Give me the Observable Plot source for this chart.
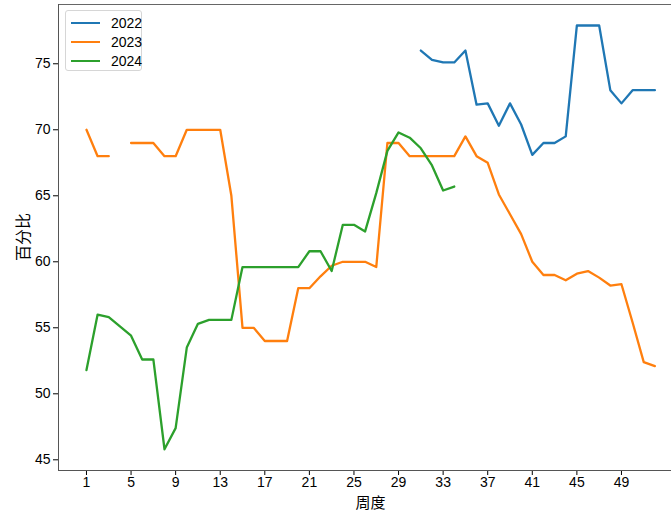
<!DOCTYPE html>
<html>
<head>
<meta charset="utf-8">
<script src="https://cdn.jsdelivr.net/npm/d3@7"></script>
<script src="https://cdn.jsdelivr.net/npm/@observablehq/plot@0.6"></script>
<style>
  body { margin: 0; background: #fff; }
  #wrap { position: relative; width: 671px; height: 514px; font-family: "Liberation Sans", "Noto Sans CJK SC", sans-serif; }
  .legend { position: absolute; left: 65px; top: 10px; width: 77px; height: 61px; border: 1px solid #d6d6d6; border-radius: 3px; background: rgba(255,255,255,0.85); box-sizing: border-box; }
  .legend .row { position: absolute; left: 0; height: 18px; display: flex; align-items: center; font-size: 14px; color: #000; }
  .legend .sw { width: 29px; height: 2px; margin-left: 5px; margin-right: 11px; }
</style>
</head>
<body>
<div id="wrap"></div>
<script>
// ---- data ----
const weeks = [1,2,3,4,5,6,7,8,9,10,11,12,13,14,15,16,17,18,19,20,21,22,23,24,25,26,
               27,28,29,30,31,32,33,34,35,36,37,38,39,40,41,42,43,44,45,46,47,48,49,50,51,52];
const years = ["2022", "2023", "2024"];
const colors = ["#1f77b4", "#ff7f0e", "#2ca02c"];
const v2022 = [null,null,null,null,null,null,null,null,null,null,null,null,null,null,null,null,
               null,null,null,null,null,null,null,null,null,null,null,null,null,null,
               76.0,75.3,75.1,75.1,76.0,71.9,72.0,70.3,72.0,70.4,68.1,69.0,69.0,69.5,
               77.9,77.9,77.9,73.0,72.0,73.0,73.0,73.0];
const v2023 = [70.0,68.0,68.0,null,69.0,69.0,69.0,68.0,68.0,70.0,70.0,70.0,70.0,65.0,55.0,55.0,
               54.0,54.0,54.0,58.0,58.0,58.9,59.7,60.0,60.0,60.0,59.6,69.0,69.0,68.0,
               68.0,68.0,68.0,68.0,69.5,68.0,67.5,65.1,63.6,62.1,60.0,59.0,59.0,58.6,
               59.1,59.3,58.8,58.2,58.3,55.4,52.4,52.1];
const v2024 = [51.8,56.0,55.8,55.1,54.4,52.6,52.6,45.8,47.4,53.5,55.3,55.6,55.6,55.6,59.6,59.6,
               59.6,59.6,59.6,59.6,60.8,60.8,59.3,62.8,62.8,62.3,65.2,68.4,69.8,69.4,
               68.6,67.3,65.4,65.7,null,null,null,null,null,null,null,null,null,null,
               null,null,null,null,null,null,null,null];
const xTicks = [1,5,9,13,17,21,25,29,33,37,41,45,49];
const yTicks = [45,50,55,60,65,70,75];
const xLabel = "周度";
const yLabel = "百分比";

const series = [v2022, v2023, v2024];
const rows = [];
series.forEach((vals, i) => weeks.forEach((w, j) => rows.push({year: years[i], week: w, value: vals[j]})));

const xDomain = [-1.51, 53.49];
const yDomain = [44.19, 79.49];

const chart = Plot.plot({
  width: 671, height: 514,
  marginLeft: 58, marginRight: 0, marginTop: 4, marginBottom: 44,
  style: { fontFamily: "'Liberation Sans', 'Noto Sans CJK SC', sans-serif", fontSize: "14px", color: "#000", background: "#fff", overflow: "visible" },
  x: { domain: xDomain, ticks: xTicks, tickSize: 5, tickPadding: 2, label: null, tickFormat: d => String(d) },
  y: { domain: yDomain, ticks: yTicks, tickSize: 5, tickPadding: 3, label: null, tickFormat: d => String(d) },
  marks: [
    ...years.map((yr, i) => Plot.line(rows.filter(r => r.year === yr), {
      x: "week", y: "value", stroke: colors[i], strokeWidth: 2.3
    })),
    Plot.ruleY([yDomain[0]], { stroke: "#555", strokeWidth: 1 }),
    Plot.ruleY([yDomain[1]], { stroke: "#666", strokeWidth: 1 }),
    Plot.ruleX([xDomain[0]], { stroke: "#555", strokeWidth: 1 })
  ]
});

const wrap = document.getElementById("wrap");
wrap.appendChild(chart);

const svg = d3.select(chart.tagName.toLowerCase() === "svg" ? chart : chart.querySelector("svg"));
svg.append("text")
  .attr("x", (58 + 683) / 2).attr("y", 504)
  .attr("text-anchor", "middle").attr("dominant-baseline", "middle")
  .attr("font-family", "'Noto Sans CJK SC', sans-serif").attr("font-size", 15)
  .attr("fill", "#000").text(xLabel);
svg.append("text")
  .attr("transform", "translate(25,237) rotate(-90)")
  .attr("text-anchor", "middle").attr("dominant-baseline", "middle")
  .attr("font-family", "'Noto Sans CJK SC', sans-serif").attr("font-size", 16)
  .attr("fill", "#000").text(yLabel);

// legend
const leg = document.createElement("div");
leg.className = "legend";
years.forEach((yr, i) => {
  const r = document.createElement("div");
  r.className = "row";
  r.style.top = (3 + i * 19) + "px";
  const sw = document.createElement("span");
  sw.className = "sw"; sw.style.background = colors[i];
  const t = document.createElement("span");
  t.textContent = yr;
  r.appendChild(sw); r.appendChild(t);
  leg.appendChild(r);
});
wrap.appendChild(leg);
</script>
</body>
</html>
